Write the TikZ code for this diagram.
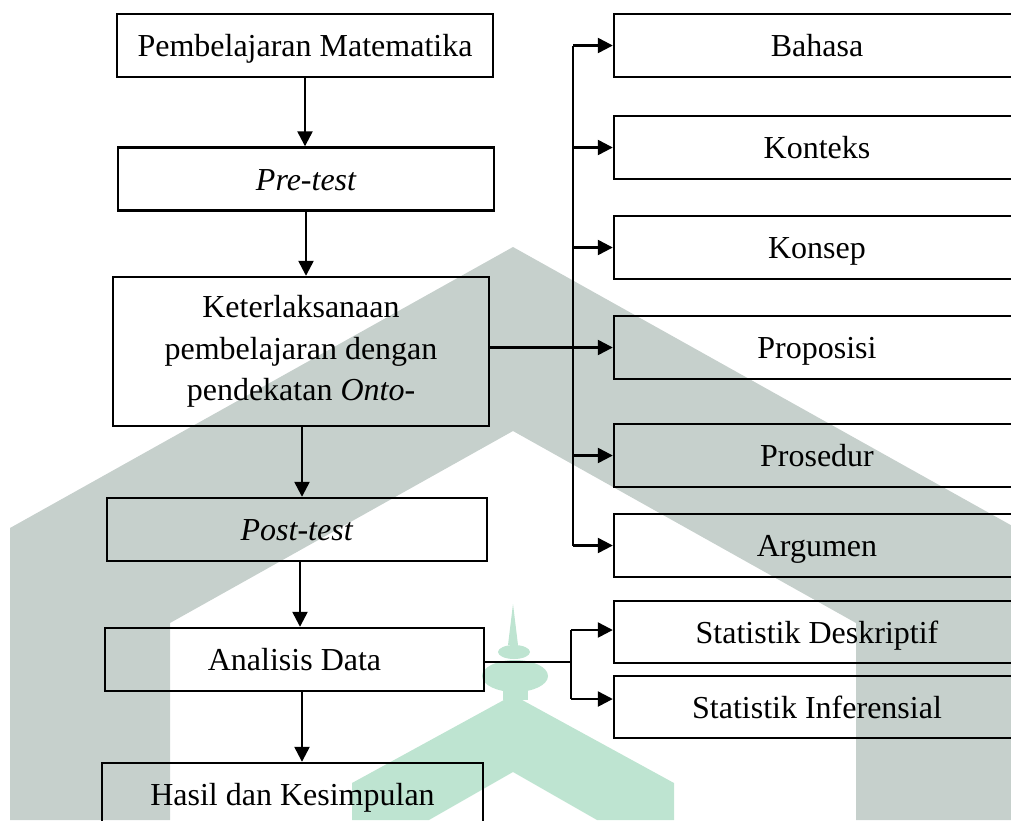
\documentclass[tikz,border=0pt]{standalone}
\usepackage{fontspec}
\setmainfont{Liberation Serif}
\usetikzlibrary{arrows.meta,calc}
\definecolor{wmgray}{RGB}{198,208,204}
\definecolor{wmgreen}{RGB}{190,228,209}
\begin{document}
\begin{tikzpicture}[x=1pt,y=-1pt,
  box/.style={draw=black, line width=2.4pt, minimum height=63pt, inner sep=0pt,
              align=center, font=\fontsize{32}{41.5}\selectfont},
  one/.style={text height=22.5pt, text depth=0pt},
  lbox/.style={box, one, minimum width=376pt},
  rbox/.style={box, one, minimum width=406pt},
  arr/.style={line width=2.4pt, -{Triangle[length=15pt,width=15pt]}},
  ln/.style={line width=2.4pt}]
\useasboundingbox (0,0) rectangle (1011,820);
\clip (0,0) rectangle (1011,820);
% watermark
\fill[wmgray] (10,820) -- (10,528) -- (513,247) -- (1016,528) -- (1016,820)
  -- (856,820) -- (856,623) -- (513,431) -- (170,623) -- (170,820) -- cycle;
\fill[wmgreen] (352,820) -- (352,783) -- (513,695) -- (674,783) -- (674,820)
  -- (597,820) -- (513,772) -- (429,820) -- cycle;
\fill[wmgreen] (515,676) ellipse[x radius=33, y radius=16];
\fill[wmgreen] (503,688) rectangle (528,700);
\fill[wmgreen] (514,652) ellipse[x radius=16, y radius=7];
\fill[wmgreen] (513,604) -- (518,645) -- (508,645) -- cycle;
% left column
\node[lbox] (b1) at (305,45.5) {Pembelajaran Matematika};
\node[lbox] (b2) at (306,179) {\itshape Pre-test};
\node[box, minimum width=376pt, minimum height=149pt] (b3) at (301,351.5)
  {Keterlaksanaan\\pembelajaran dengan\\pendekatan \textit{Onto}-};
\node[lbox, minimum width=380pt] (b4) at (297,529.5) {\textit{Post-test}};
\node[lbox, minimum width=379pt] (b5) at (294.5,659.5) {Analisis Data};
\node[lbox, minimum width=381pt] (b6) at (292.5,794.5) {Hasil dan Kesimpulan};
% right column
\node[rbox] (r1) at (817,45.5) {Bahasa};
\node[rbox] (r2) at (817,147.5) {Konteks};
\node[rbox] (r3) at (817,247.5) {Konsep};
\node[rbox] (r4) at (817,347.5) {Proposisi};
\node[rbox] (r5) at (817,455.5) {Prosedur};
\node[rbox] (r6) at (817,545.5) {Argumen};
\node[rbox, minimum height=62pt] (s1) at (817,632) {Statistik Deskriptif};
\node[rbox, minimum height=62pt] (s2) at (817,707) {Statistik Inferensial};
% vertical flow
\draw[arr] (b1.south) -- (b1.south |- b2.north);
\draw[arr] (b2.south) -- (b2.south |- b3.north);
\draw[arr] ([xshift=1pt]b3.south) -- ([xshift=1pt]b3.south |- b4.north);
\draw[arr] ([xshift=3pt]b4.south) -- ([xshift=3pt]b4.south |- b5.north);
\draw[arr] ([xshift=7.5pt]b5.south) -- ([xshift=7.5pt]b5.south |- b6.north);
% bus to right boxes
\coordinate (bx) at (573,0);
\draw[ln] (bx |- r1.west) -- (bx |- r6.west);
\foreach \r in {r1,r2,r3,r5,r6}{
  \draw[arr] (bx |- \r.west) -- (\r.west);
}
\draw[arr] (b3.east |- r4.west) -- (r4.west);
% analysis branch
\coordinate (bj) at (571,662);
\draw[ln] (b5.east |- bj) -- (bj);
\draw[ln] ([yshift=2pt]bj |- s1.west) -- ([yshift=8pt]bj |- s2.west);
\draw[arr] ([yshift=2pt]bj |- s1.west) -- ([yshift=2pt]s1.west);
\draw[arr] ([yshift=8pt]bj |- s2.west) -- ([yshift=8pt]s2.west);
\end{tikzpicture}
\end{document}
